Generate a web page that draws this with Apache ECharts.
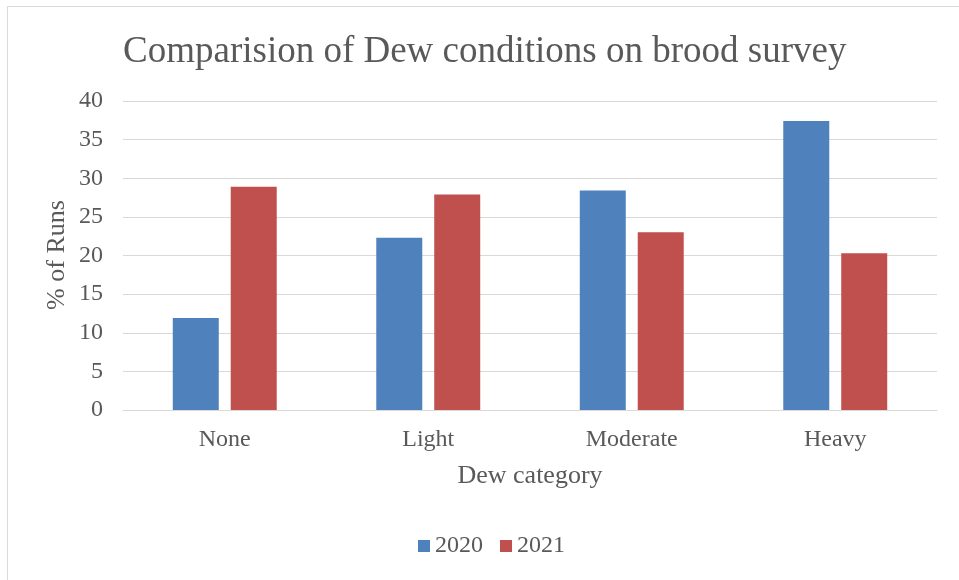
<!DOCTYPE html>
<html><head><meta charset="utf-8">
<script src="https://cdn.jsdelivr.net/npm/echarts@6/dist/echarts.min.js"></script>
<style>html,body{margin:0;padding:0;background:#fff}#c{width:959px;height:580px}</style>
</head><body><div id="c"></div>
<script>
var categories = ['None', 'Light', 'Moderate', 'Heavy'];
var series2020 = [11.9, 22.3, 28.4, 37.4];
var series2021 = [28.9, 27.9, 23.0, 20.3];
var seriesNames = ['2020', '2021'];
var titleText = 'Comparision of Dew conditions on brood survey';
var xTitle = 'Dew category';
var yTitle = '% of Runs';

var FONT = '"Liberation Serif", "Times New Roman", serif';
var TXT = '#595959';
var chart = echarts.init(document.getElementById('c'));
chart.setOption({
  animation: false,
  backgroundColor: '#fff',
  graphic: [
    {type:'rect', shape:{x:7.5, y:6.5, width:2000, height:2000}, style:{fill:'none', stroke:'#d9d9d9', lineWidth:1}, silent:true},
    {type:'text', x:57, y:255, rotation: Math.PI/2, silent:true,
      style:{text: yTitle, font: '26px ' + FONT, fill: TXT, align:'center', verticalAlign:'middle'}}
  ],
  title: {text: titleText, left: 118, top: 29, textStyle:{fontFamily:FONT, fontSize:37, fontWeight:'normal', color:TXT}},
  legend: {data: seriesNames, bottom: 17, left: 413, itemWidth: 12, itemHeight: 12, itemGap: 17,
    icon: 'rect', textStyle:{fontFamily:FONT, fontSize:24, color:TXT, padding:[0,0,0,0]}},
  grid: {left: 123, right: 22, top: 101, bottom: 170, containLabel: false},
  xAxis: {type:'category', data: categories,
    axisLine:{lineStyle:{color:'#d9d9d9', width:1}}, axisTick:{show:false},
    axisLabel:{fontFamily:FONT, fontSize:24, color:TXT, margin:18},
    name: xTitle, nameLocation:'middle', nameGap: 53,
    nameTextStyle:{fontFamily:FONT, fontSize:26, color:TXT}},
  yAxis: {type:'value', min:0, max:40, interval:5,
    axisLine:{show:false}, axisTick:{show:false},
    splitLine:{lineStyle:{color:'#d9d9d9', width:1}},
    axisLabel:{fontFamily:FONT, fontSize:24, color:TXT, margin:20}},
  series: [
    {name: seriesNames[0], type:'bar', data: series2020, barWidth: 46, barGap: '26%',
      itemStyle:{color:'#4f81bd'}},
    {name: seriesNames[1], type:'bar', data: series2021, barWidth: 46, barGap: '26%',
      itemStyle:{color:'#c0504d'}}
  ]
});
</script></body></html>
